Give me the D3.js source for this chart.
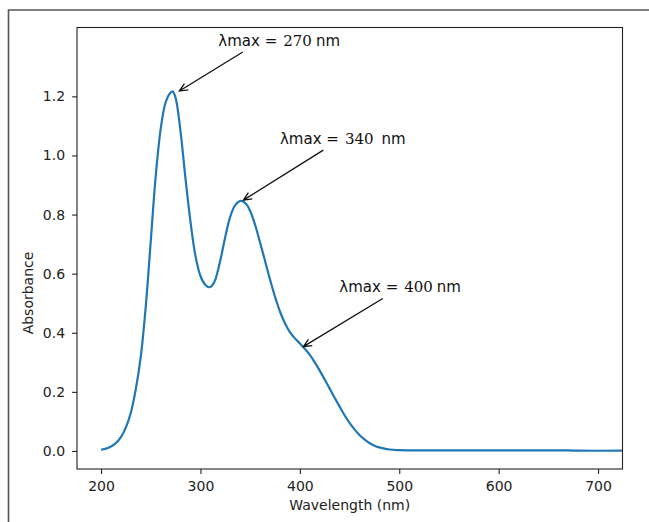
<!DOCTYPE html>
<html>
<head>
<meta charset="utf-8">
<script src="https://cdn.jsdelivr.net/npm/d3@7"></script>
<style>
  body { margin: 0; background: #fff; }
  svg { display: block; font-family: "DejaVu Sans", sans-serif; }
</style>
</head>
<body>
<div id="chart"></div>
<script>
// spectrum (nm, absorbance)
const wavelength = [200, 207, 214, 220, 225, 230, 235, 240, 245, 250, 255, 260, 265, 270, 272, 275,
  280, 285, 290, 295, 300, 305, 309, 312, 315, 320, 325, 330, 335, 341, 346, 350, 355, 360, 365, 370,
  375, 380, 385, 390, 395, 400, 405, 410, 415, 420, 425, 430, 435, 440, 445, 450, 455, 460, 465,
  470, 475, 480, 490, 500, 550, 600, 670, 680, 725];
const absorbance = [0.004, 0.010, 0.024, 0.047, 0.08, 0.13, 0.21, 0.32, 0.49, 0.71, 0.93, 1.09, 1.18, 1.213, 1.217, 1.195,
  1.08, 0.92, 0.775, 0.66, 0.592, 0.562, 0.554, 0.561, 0.58, 0.645, 0.725, 0.793, 0.832, 0.846, 0.836, 0.812, 0.765, 0.705, 0.643, 0.58,
  0.522, 0.472, 0.432, 0.402, 0.381, 0.364, 0.346, 0.325, 0.300, 0.272, 0.242, 0.211, 0.18, 0.15, 0.121, 0.095, 0.073, 0.054, 0.039,
  0.027, 0.018, 0.012, 0.005, 0.003, 0.002, 0.002, 0.002, 0.001, 0.001];

const xTicks = [200, 300, 400, 500, 600, 700];
const yTicks = [0, 0.2, 0.4, 0.6, 0.8, 1.0, 1.2];

// annotation: label number, text anchor, arrow tail and arrow tip (data units)
const peakLabels = ["270", "340", "400"];
const textAt = [[318, 1.369], [380, 1.04], [439.7, 0.539]];
const arrowFrom = [[342.6, 1.35], [423.6, 1.018], [483.4, 0.516]];
const arrowTo = [[278.8, 1.218], [343.2, 0.849], [403.5, 0.353]];

const width = 649, height = 522;
const margin = { left: 77, right: 26.5, top: 27.5, bottom: 53 };

const svg = d3.select("#chart").append("svg")
  .attr("width", width)
  .attr("height", height);

// outer figure border (top + left only visible)
svg.append("path")
  .attr("d", `M8.5,${height} V10 H${width}`)
  .attr("fill", "none")
  .attr("stroke", "#555")
  .attr("stroke-width", 1.6);

const x = d3.scaleLinear()
  .domain([175.8, 724.6])
  .range([margin.left, width - margin.right]);

const y = d3.scaleLinear()
  .domain([-0.061, 1.433])
  .range([height - margin.bottom, margin.top]);

svg.append("clipPath").attr("id", "clip")
  .append("rect")
  .attr("x", margin.left).attr("y", margin.top)
  .attr("width", width - margin.left - margin.right)
  .attr("height", height - margin.top - margin.bottom);

const xAxis = svg.append("g")
  .attr("transform", `translate(0,${height - margin.bottom})`)
  .call(d3.axisBottom(x).tickValues(xTicks).tickSize(4.9).tickPadding(7.5).tickFormat(d3.format("d")));

const yAxis = svg.append("g")
  .attr("transform", `translate(${margin.left},0)`)
  .call(d3.axisLeft(y).tickValues(yTicks).tickSize(4.9).tickPadding(7).tickFormat(d3.format(".1f")));

[xAxis, yAxis].forEach(g => {
  g.select(".domain").remove();
  g.selectAll("line").attr("stroke", "#222").attr("stroke-width", 1.1);
  g.selectAll("text")
    .attr("fill", "#222")
    .style("font-family", "'DejaVu Sans', sans-serif")
    .style("font-size", "14px");
});

const pts = wavelength.map((w, i) => [w, absorbance[i]]);

svg.append("path")
  .datum(pts)
  .attr("clip-path", "url(#clip)")
  .attr("fill", "none")
  .attr("stroke", "#1f77b4")
  .attr("stroke-width", 2.2)
  .attr("stroke-linejoin", "round")
  .attr("d", d3.line()
    .x(d => x(d[0]))
    .y(d => y(d[1]))
    .curve(d3.curveCatmullRom.alpha(0.5)));

// frame
svg.append("rect")
  .attr("x", margin.left)
  .attr("y", margin.top)
  .attr("width", width - margin.left - margin.right)
  .attr("height", height - margin.top - margin.bottom)
  .attr("fill", "none")
  .attr("stroke", "#222")
  .attr("stroke-width", 1.1);

// axis labels
svg.append("text")
  .attr("x", (margin.left + width - margin.right) / 2)
  .attr("y", 510)
  .attr("text-anchor", "middle")
  .attr("font-size", "14px")
  .attr("fill", "#222")
  .text("Wavelength (nm)");

svg.append("text")
  .attr("transform", "translate(32.5,293) rotate(-90)")
  .attr("text-anchor", "middle")
  .attr("font-size", "14px")
  .attr("fill", "#222")
  .text("Absorbance");

// annotations
peakLabels.forEach((lab, i) => {
  const t = svg.append("text")
    .attr("x", x(textAt[i][0]))
    .attr("y", y(textAt[i][1]))
    .attr("font-size", "15px")
    .attr("fill", "#111");
  t.append("tspan").text("λmax =");
  t.append("tspan")
    .attr("dx", 6)
    .style("font-family", "'DejaVu Serif', serif")
    .text(lab);
  t.append("tspan").attr("dx", i === 1 ? 8 : 4).text("nm");

  const x0 = x(arrowFrom[i][0]), y0 = y(arrowFrom[i][1]);
  const x1 = x(arrowTo[i][0]), y1 = y(arrowTo[i][1]);
  const ang = Math.atan2(y1 - y0, x1 - x0);
  const head = 9, spread = 0.42;
  const hx1 = x1 - head * Math.cos(ang - spread), hy1 = y1 - head * Math.sin(ang - spread);
  const hx2 = x1 - head * Math.cos(ang + spread), hy2 = y1 - head * Math.sin(ang + spread);

  svg.append("path")
    .attr("d", `M${x0},${y0} L${x1},${y1} M${hx1},${hy1} L${x1},${y1} L${hx2},${hy2}`)
    .attr("fill", "none")
    .attr("stroke", "#111")
    .attr("stroke-width", 1.3)
    .attr("stroke-linejoin", "miter");
});
</script>
</body>
</html>
